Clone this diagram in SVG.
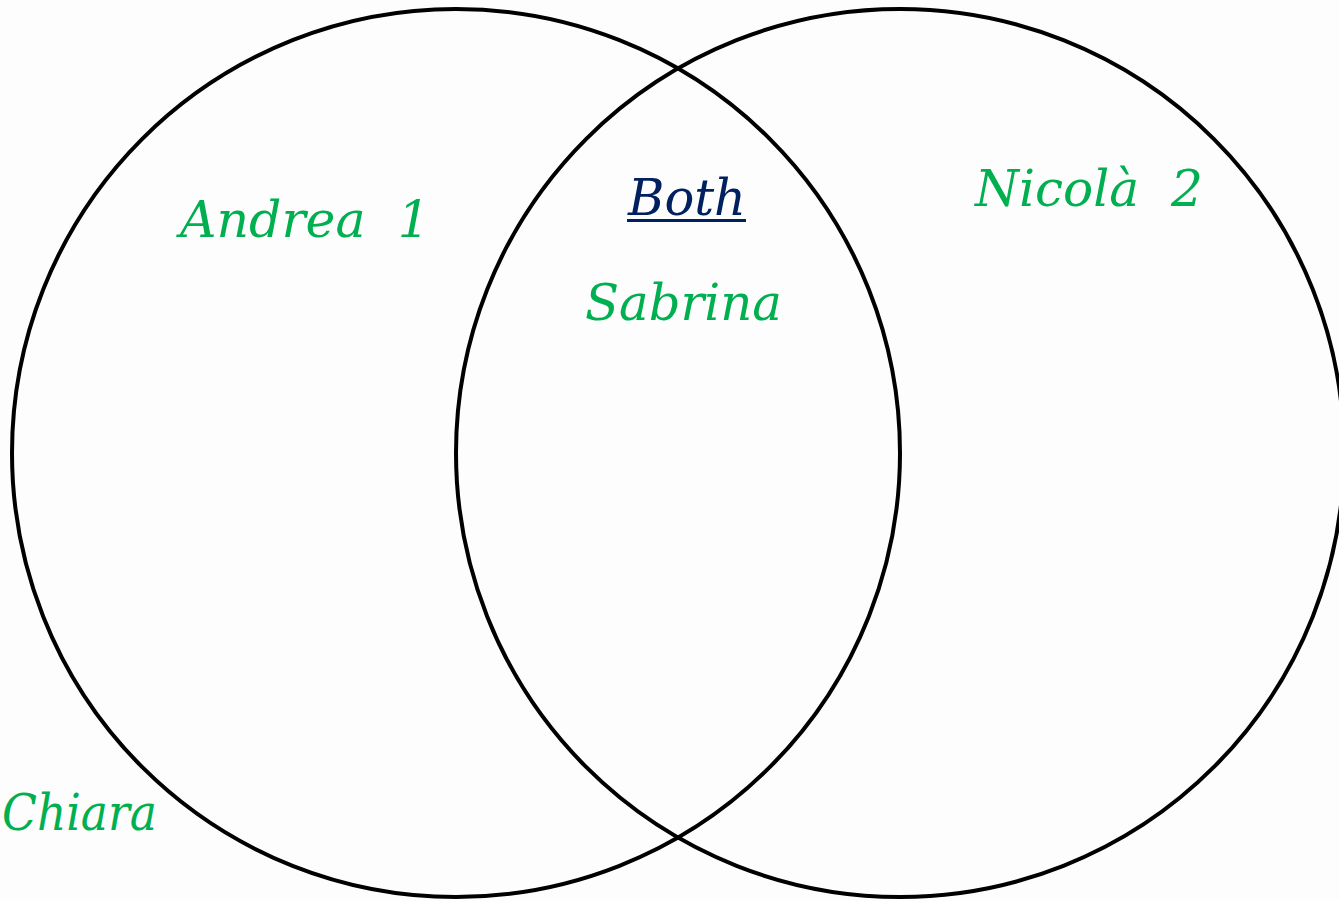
<svg xmlns="http://www.w3.org/2000/svg" width="1339" height="901" viewBox="0 0 1339 901">
<style>
.c{fill:none;stroke:#000;stroke-width:4}
.t{font-family:"DejaVu Serif","Liberation Serif",serif;font-style:italic;font-size:50px;fill:#00b050}
.b{fill:#002060}
</style>
<rect width="1339" height="901" fill="#fdfdfd"/>
<g id="left-circle"><circle class="c" cx="456" cy="453" r="444"/></g>
<g id="right-circle"><circle class="c" cx="900" cy="453" r="444"/></g>
<g id="andrea"><text class="t" x="180" y="237" textLength="250" lengthAdjust="spacingAndGlyphs" xml:space="preserve">Andrea  1</text></g>
<g id="both"><text class="t b" x="628" y="215" textLength="118" lengthAdjust="spacingAndGlyphs">Both</text><rect x="627" y="219" width="119" height="3" fill="#002060"/></g>
<g id="sabrina"><text class="t" x="585" y="320" textLength="197" lengthAdjust="spacingAndGlyphs">Sabrina</text></g>
<g id="nicola"><text class="t" x="975" y="206" textLength="228" lengthAdjust="spacingAndGlyphs" xml:space="preserve">Nicolà  2</text></g>
<g id="chiara"><text class="t" x="2" y="830" textLength="155" lengthAdjust="spacingAndGlyphs">Chiara</text></g>
</svg>
